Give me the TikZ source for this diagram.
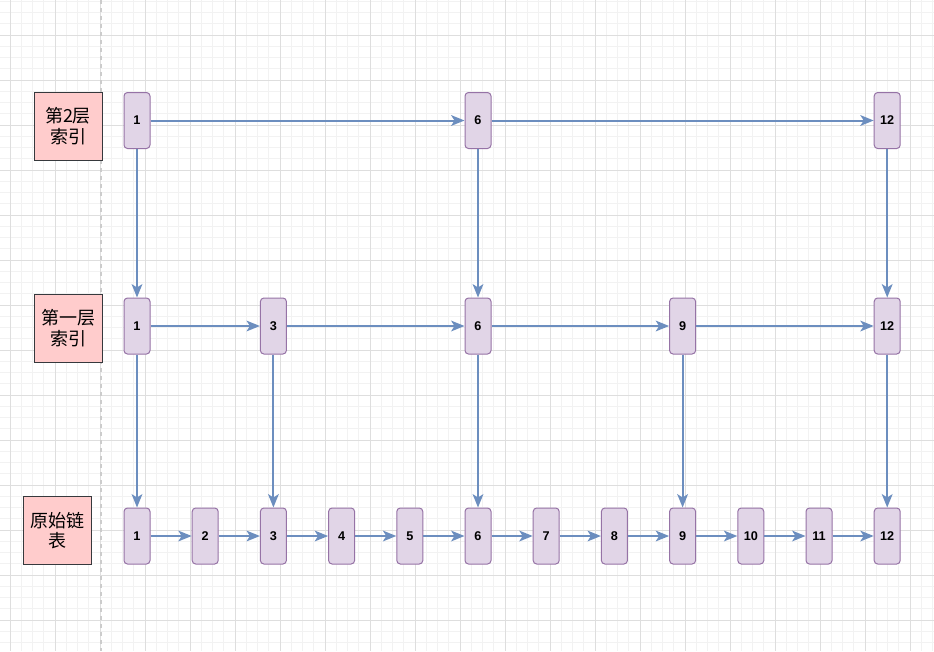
\documentclass[tikz,border=0pt]{standalone}
\usepackage{fontspec}
\setmainfont{Liberation Sans}
\newfontfamily\cjk{Noto Sans CJK SC}
\usetikzlibrary{arrows.meta}
\definecolor{gridminor}{HTML}{F2F2F2}
\definecolor{gridmajor}{HTML}{DEDEDE}
\definecolor{nodefill}{HTML}{E1D5E7}
\definecolor{nodeline}{HTML}{9673A6}
\definecolor{labfill}{HTML}{FFCCCC}
\definecolor{labline}{HTML}{36393D}
\definecolor{arrowcol}{HTML}{6C8EBF}
\tikzset{
  num/.style={draw=nodeline, fill=nodefill, rounded corners=3.5*0.75pt, minimum width=26*0.75pt, minimum height=56*0.75pt, inner sep=0pt, font=\fontsize{9.5}{10}\selectfont\bfseries, line width=0.75pt},
  lab/.style={draw=labline, fill=labfill, minimum width=68*0.75pt, minimum height=68*0.75pt, inner sep=0pt, align=center, font=\cjk\fontsize{13.5}{15.5}\selectfont, line width=0.75pt},
  conn/.style={draw=arrowcol, line width=1.5pt, -{Stealth[length=10pt,width=8pt,inset=2.5pt]}}
}
\begin{document}
\begin{tikzpicture}[x=0.75pt,y=-0.75pt]
\useasboundingbox (0,0) rectangle (934,651);
\fill[white] (0,0) rectangle (934,651);
% grid
\foreach \i in {0,...,83} {
  \draw[gridminor, line width=0.5pt] ({10+11.25*\i},0) -- ({10+11.25*\i},651);
}
\foreach \i in {0,...,58} {
  \draw[gridminor, line width=0.5pt] (0,{1.25+11.25*\i}) -- (934,{1.25+11.25*\i});
}
\foreach \i in {0,...,20} {
  \draw[gridmajor, line width=0.6pt] ({10+45*\i},0) -- ({10+45*\i},651);
}
\foreach \i in {0,...,14} {
  \draw[gridmajor, line width=0.6pt] (0,{35+45*\i}) -- (934,{35+45*\i});
}
\draw[gray!40, line width=1pt, dash pattern=on 3pt off 3pt] (101,0) -- (101,651);

% labels
\node[lab] (l2) at (68,126) {第2层\\索引};
\node[lab] (l1) at (68,328) {第一层\\索引};
\node[lab] (l0) at (57,530.5) {原始链\\表};

% row 3 (original list)
\foreach \k in {1,...,12} {
  \node[num] (c\k) at ({137+68.2*(\k-1)},536) {\k};
}
% row 2
\foreach \k in {1,3,6,9,12} {
  \node[num] (b\k) at ({137+68.2*(\k-1)},326) {\k};
}
% row 1
\foreach \k in {1,6,12} {
  \node[num] (a\k) at ({137+68.2*(\k-1)},120.5) {\k};
}

% horizontal connectors
\draw[conn] (a1) -- (a6);
\draw[conn] (a6) -- (a12);
\draw[conn] (b1) -- (b3);
\draw[conn] (b3) -- (b6);
\draw[conn] (b6) -- (b9);
\draw[conn] (b9) -- (b12);
\foreach \k [evaluate=\k as \n using int(\k+1)] in {1,...,11} {
  \draw[conn] (c\k) -- (c\n);
}
% vertical connectors
\foreach \k in {1,6,12} {
  \draw[conn] (a\k) -- (b\k);
}
\foreach \k in {1,3,6,9,12} {
  \draw[conn] (b\k) -- (c\k);
}
\end{tikzpicture}
\end{document}
